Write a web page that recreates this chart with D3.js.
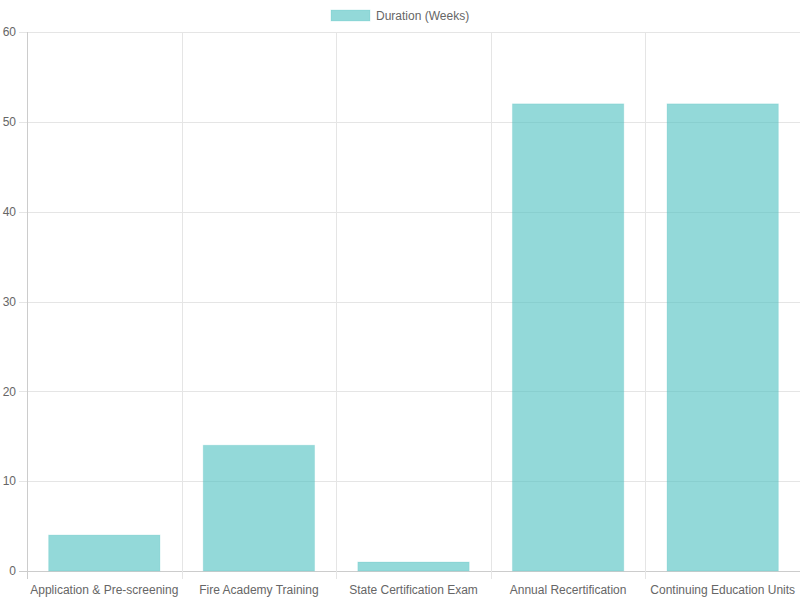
<!DOCTYPE html>
<html>
<head>
<meta charset="utf-8">
<script src="https://cdn.jsdelivr.net/npm/d3@7"></script>
<style>
  body { margin: 0; background: #fff; }
  text { font-family: "Liberation Sans", Arial, sans-serif; font-size: 12px; fill: #666; }
</style>
</head>
<body>
<svg width="800" height="600"></svg>
<script>
var categories = ['Application & Pre-screening', 'Fire Academy Training', 'State Certification Exam', 'Annual Recertification', 'Continuing Education Units'];
var durations = [4, 14, 1, 52, 52];
var yTicks = [0, 10, 20, 30, 40, 50, 60];
var seriesName = 'Duration (Weeks)';

var svg = d3.select('svg');
var plotLeft = 27, plotRight = 800, plotTop = 32, plotBottom = 571;

var x = d3.scaleBand().domain(categories).range([plotLeft, plotRight]).paddingInner(0).paddingOuter(0);
var y = d3.scaleLinear().domain([0, 60]).range([plotBottom, plotTop]);

// horizontal grid
svg.append('g').selectAll('line')
  .data(yTicks)
  .enter()
  .append('line')
  .attr('x1', plotLeft - 8)
  .attr('x2', plotRight)
  .attr('y1', function(d){ return Math.round(y(d)) + 0.5; })
  .attr('y2', function(d){ return Math.round(y(d)) + 0.5; })
  .attr('stroke', function(d){ return d === 0 ? '#ccc' : '#e5e5e5'; });

// vertical grid
var xLines = categories.map(function(c){ return x(c); }).concat([plotRight]);
svg.append('g').selectAll('line')
  .data(xLines)
  .enter()
  .append('line')
  .attr('x1', function(d){ return Math.round(d) + 0.5; })
  .attr('x2', function(d){ return Math.round(d) + 0.5; })
  .attr('y1', plotTop)
  .attr('y2', plotBottom + 8)
  .attr('stroke', function(d, i){ return i === 0 ? '#ccc' : '#e5e5e5'; });

// y labels
svg.append('g').selectAll('text')
  .data(yTicks)
  .enter()
  .append('text')
  .attr('x', plotLeft - 11)
  .attr('y', function(d){ return y(d); })
  .attr('dy', '0.35em')
  .attr('text-anchor', 'end')
  .text(function(d){ return d; });

// x labels
svg.append('g').selectAll('text')
  .data(categories)
  .enter()
  .append('text')
  .attr('x', function(d){ return x(d) + x.bandwidth() / 2; })
  .attr('y', plotBottom + 23)
  .attr('text-anchor', 'middle')
  .text(function(d){ return d; });

// bars
var barW = x.bandwidth() * 0.72;
svg.append('g').selectAll('rect')
  .data(durations)
  .enter()
  .append('rect')
  .attr('x', function(d, i){ return x(categories[i]) + (x.bandwidth() - barW) / 2; })
  .attr('y', function(d){ return y(d); })
  .attr('width', barW)
  .attr('height', function(d){ return y(0) - y(d); })
  .attr('fill', 'rgba(75,192,192,0.6)')
  .attr('stroke', 'rgba(75,192,192,0.2)')
  .attr('stroke-width', 1);

// legend
var legend = svg.append('g');
legend.append('rect')
  .attr('x', 331).attr('y', 10).attr('width', 39).attr('height', 11)
  .attr('fill', 'rgba(75,192,192,0.6)')
  .attr('stroke', 'rgba(75,192,192,0.2)');
legend.append('text')
  .attr('x', 376).attr('y', 16).attr('dy', '0.35em')
  .text(seriesName);
</script>
</body>
</html>
